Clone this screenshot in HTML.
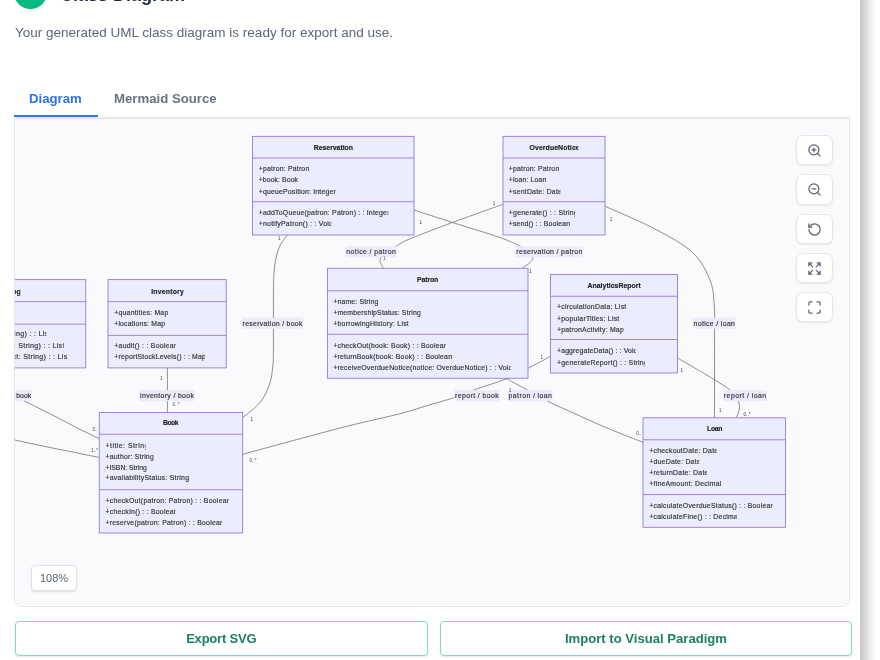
<!DOCTYPE html>
<html lang="en">
<head>
<meta charset="utf-8">
<title>Class Diagram</title>
<style>
*{box-sizing:border-box;margin:0;padding:0}
html,body{width:880px;height:660px;overflow:hidden;background:#fff;font-family:"Liberation Sans",sans-serif}
.card{position:absolute;left:0;top:0;width:860px;height:660px;background:#fff}
.shadow{position:absolute;left:860px;top:0;width:18px;height:660px;
  background:linear-gradient(to right,#c9c9c9 0%,#cbcbcb 6%,#d8d8d8 30%,#e6e6e6 48%,#f3f3f3 66%,#fbfbfb 84%,#fff 100%)}
.dot{position:absolute;left:14px;top:-24.1px;width:32.8px;height:32.8px;border-radius:50%;background:#06b981}
.title{position:absolute;left:59.5px;top:-15.6px;font-size:18px;line-height:22px;font-weight:bold;color:#1e293b;white-space:nowrap}
.sub{position:absolute;left:15px;top:24.2px;font-size:13.5px;line-height:18px;color:#5d6679;white-space:nowrap}
.tabs{position:absolute;left:15px;top:80px;width:835px;height:38px;border-bottom:1px solid #e5e7eb}
.tab{position:absolute;top:0;height:38px;line-height:37.2px;font-size:13.2px;font-weight:bold;color:#6b7280;white-space:nowrap}
.tab.on{color:#2e71ee}
.ul{position:absolute;left:14px;top:115.4px;width:84px;height:2px;background:#3277f2}
.canvas{position:absolute;left:14px;top:117.6px;width:836px;height:489px;background:#f9fafb;border:1px solid #e5e7eb;border-radius:0 0 8px 8px}
.dg{position:absolute;left:0;top:0;font-family:"Liberation Sans",sans-serif;will-change:transform;transform:translateZ(0)}
.zb{position:absolute;left:796px;width:36.5px;height:30.3px;background:#fff;border:1px solid #e5e7eb;border-radius:7px;box-shadow:0 1px 2px rgba(0,0,0,.08)}
.zb svg{position:absolute;left:9.6px;top:7px;width:15px;height:15px;stroke:#596273;fill:none;stroke-width:2;stroke-linecap:round;stroke-linejoin:round}
.pct{position:absolute;left:31px;top:565px;width:46px;height:25.5px;background:#fff;border:1px solid #dfe2e8;border-radius:4px;box-shadow:0 1px 2px rgba(0,0,0,.1);font-size:11px;line-height:24px;text-align:center;color:#5b6472}
.btn{position:absolute;top:621px;height:34.5px;background:#fff;border:1px solid #79e2b9;border-radius:4px;box-shadow:0 1px 2px rgba(0,0,0,.1);font-size:13px;letter-spacing:-0.2px;font-weight:bold;color:#1c8160;text-align:center;line-height:34.3px;white-space:nowrap}
.title,.sub,.tab,.pct,.btn{will-change:transform}
</style>
</head>
<body>
<div class="card"></div>
<div class="shadow"></div>
<div class="dot"></div>
<div class="title">Class Diagram</div>
<div class="sub">Your generated UML class diagram is ready for export and use.</div>
<div class="tabs">
  <div class="tab on" style="left:14px">Diagram</div>
  <div class="tab" style="left:99px">Mermaid Source</div>
</div>
<div class="ul"></div>
<div class="canvas"></div>
<svg class="dg" width="880" height="660" viewBox="0 0 880 660">
<defs><clipPath id="cp"><rect x="14.8" y="118" width="834.5" height="488"/></clipPath></defs>
<g clip-path="url(#cp)">
<g fill="none" stroke="#555" stroke-width="0.65">
<path d="M414.00,210.00 C420.42,212.08 438.17,217.92 452.50,222.50 C466.83,227.08 488.77,233.55 500.00,237.50 C511.23,241.45 515.07,243.95 519.90,246.20 C524.73,248.45 526.87,249.20 529.00,251.00 C531.13,252.80 532.25,255.42 532.70,257.00 C533.15,258.58 532.55,259.23 531.70,260.50 C530.85,261.77 529.30,263.28 527.60,264.60 C525.90,265.92 522.52,267.77 521.50,268.40"/>
<path d="M503.00,204.25 C494.58,207.29 468.00,216.74 452.50,222.50 C437.00,228.26 419.40,234.85 410.00,238.80 C400.60,242.75 400.10,244.08 396.10,246.20 C392.10,248.32 388.45,249.73 386.00,251.50 C383.55,253.27 382.40,255.13 381.40,256.80 C380.40,258.47 379.93,260.07 380.00,261.50 C380.07,262.93 381.18,264.23 381.80,265.40 C382.43,266.57 383.43,267.98 383.75,268.50"/>
<path d="M287.70,235.00 C286.80,236.10 283.88,239.13 282.30,241.60 C280.72,244.07 279.33,246.62 278.20,249.80 C277.07,252.98 276.18,257.07 275.50,260.70 C274.82,264.33 274.43,267.05 274.10,271.60 C273.77,276.15 273.62,279.93 273.50,288.00 C273.38,296.07 273.42,309.33 273.40,320.00 C273.38,330.67 273.48,344.50 273.40,352.00 C273.32,359.50 273.38,360.17 272.90,365.00 C272.42,369.83 271.98,375.70 270.50,381.00 C269.02,386.30 266.67,392.30 264.00,396.80 C261.33,401.30 258.03,404.55 254.50,408.00 C250.97,411.45 244.75,415.92 242.80,417.50"/>
<path d="M605.00,206.25 C613.33,210.04 640.42,221.29 655.00,229.00 C669.58,236.71 683.33,244.00 692.50,252.50 C701.67,261.00 706.38,271.25 710.00,280.00 C713.62,288.75 713.50,296.67 714.25,305.00 C715.00,313.33 714.46,317.50 714.50,330.00 C714.54,342.50 714.50,365.42 714.50,380.00 C714.50,394.58 714.50,411.25 714.50,417.50"/>
<path d="M167.40,367.50 C167.40,375.00 167.40,405.00 167.40,412.50"/>
<path d="M14.00,395.00 C15.83,396.04 19.00,398.12 25.00,401.25 C31.00,404.38 41.67,409.50 50.00,413.75 C58.33,418.00 66.79,422.58 75.00,426.75 C83.21,430.92 95.21,436.75 99.25,438.75"/>
<path d="M0.00,436.50 C2.50,437.08 6.67,438.17 15.00,440.00 C23.33,441.83 40.00,445.42 50.00,447.50 C60.00,449.58 66.79,450.83 75.00,452.50 C83.21,454.17 95.21,456.67 99.25,457.50"/>
<path d="M550.50,356.40 C546.75,358.38 535.42,364.53 528.00,368.30 C520.58,372.07 514.83,375.47 506.00,379.00 C497.17,382.53 483.58,386.42 475.00,389.50 C466.42,392.58 462.83,394.71 454.50,397.50 C446.17,400.29 434.08,403.54 425.00,406.25 C415.92,408.96 412.50,410.54 400.00,413.75 C387.50,416.96 366.67,421.33 350.00,425.50 C333.33,429.67 317.87,433.96 300.00,438.75 C282.13,443.54 252.33,451.67 242.80,454.25"/>
<path d="M506.00,378.25 C509.17,380.00 518.29,385.04 525.00,388.75 C531.71,392.46 537.92,396.33 546.25,400.50 C554.58,404.67 566.04,409.67 575.00,413.75 C583.96,417.83 592.50,421.75 600.00,425.00 C607.50,428.25 612.83,430.37 620.00,433.25 C627.17,436.13 639.17,440.79 643.00,442.30"/>
<path d="M677.50,358.00 C681.67,360.42 696.25,368.83 702.50,372.50 C708.75,376.17 710.50,377.17 715.00,380.00 C719.50,382.83 726.08,387.00 729.50,389.50 C732.92,392.00 734.05,393.13 735.50,395.00 C736.95,396.87 737.53,398.80 738.20,400.70 C738.87,402.60 739.43,404.55 739.50,406.40 C739.57,408.25 739.12,409.95 738.60,411.80 C738.08,413.65 736.77,416.55 736.40,417.50"/>
</g>
<rect x="345.75" y="246.25" width="50.75" height="11" fill="#ebebfd"/>
<text x="346.35" y="254.15" font-size="6.9" fill="#333" stroke="#333" stroke-width="0.16" textLength="49.55" lengthAdjust="spacing">notice / patron</text>
<rect x="515.75" y="246.25" width="67.25" height="11" fill="#ebebfd"/>
<text x="516.35" y="254.15" font-size="6.9" fill="#333" stroke="#333" stroke-width="0.16" textLength="66.05" lengthAdjust="spacing">reservation / patron</text>
<rect x="242" y="317.75" width="61" height="11" fill="#ebebfd"/>
<text x="242.6" y="325.65" font-size="6.9" fill="#333" stroke="#333" stroke-width="0.16" textLength="59.8" lengthAdjust="spacing">reservation / book</text>
<rect x="693" y="317.75" width="42.5" height="11" fill="#ebebfd"/>
<text x="693.6" y="325.65" font-size="6.9" fill="#333" stroke="#333" stroke-width="0.16" textLength="41.3" lengthAdjust="spacing">notice / loan</text>
<rect x="-12" y="390.0" width="43.75" height="11" fill="#ebebfd"/>
<text x="-11.4" y="397.9" font-size="6.9" fill="#333" stroke="#333" stroke-width="0.16" textLength="42.55" lengthAdjust="spacing">catalog / book</text>
<rect x="139.5" y="390.0" width="55.0" height="11" fill="#ebebfd"/>
<text x="140.1" y="397.9" font-size="6.9" fill="#333" stroke="#333" stroke-width="0.16" textLength="53.8" lengthAdjust="spacing">inventory / book</text>
<rect x="454.5" y="390.0" width="44.75" height="11" fill="#ebebfd"/>
<text x="455.1" y="397.9" font-size="6.9" fill="#333" stroke="#333" stroke-width="0.16" textLength="43.55" lengthAdjust="spacing">report / book</text>
<rect x="508" y="390.0" width="44.5" height="11" fill="#ebebfd"/>
<text x="508.6" y="397.9" font-size="6.9" fill="#333" stroke="#333" stroke-width="0.16" textLength="43.3" lengthAdjust="spacing">patron / loan</text>
<rect x="723.25" y="390.0" width="43.5" height="11" fill="#ebebfd"/>
<text x="723.85" y="397.9" font-size="6.9" fill="#333" stroke="#333" stroke-width="0.16" textLength="42.3" lengthAdjust="spacing">report / loan</text>
<text x="494" y="204.6" text-anchor="middle" font-size="4.6" fill="#444">1</text>
<text x="420.75" y="223.6" text-anchor="middle" font-size="4.6" fill="#444">1</text>
<text x="384.2" y="260.1" text-anchor="middle" font-size="4.6" fill="#444">1</text>
<text x="530.2" y="272.90000000000003" text-anchor="middle" font-size="4.6" fill="#444">1</text>
<text x="611" y="220.6" text-anchor="middle" font-size="4.6" fill="#444">1</text>
<text x="251.75" y="421.1" text-anchor="middle" font-size="4.6" fill="#444">1</text>
<text x="253" y="461.8" text-anchor="middle" font-size="4.6" fill="#444">0..*</text>
<text x="279.4" y="240.29999999999998" text-anchor="middle" font-size="4.6" fill="#444">1</text>
<text x="161.25" y="380.35" text-anchor="middle" font-size="4.6" fill="#444">1</text>
<text x="176" y="406.3" text-anchor="middle" font-size="4.6" fill="#444">0..*</text>
<text x="95" y="430.6" text-anchor="middle" font-size="4.6" fill="#444">0..</text>
<text x="94.5" y="452.3" text-anchor="middle" font-size="4.6" fill="#444">1..*</text>
<text x="541.75" y="358.6" text-anchor="middle" font-size="4.6" fill="#444">1</text>
<text x="681.75" y="372.35" text-anchor="middle" font-size="4.6" fill="#444">1</text>
<text x="720.2" y="411.6" text-anchor="middle" font-size="4.6" fill="#444">1</text>
<text x="747" y="416.1" text-anchor="middle" font-size="4.6" fill="#444">0..*</text>
<text x="638.75" y="434.6" text-anchor="middle" font-size="4.6" fill="#444">0..</text>
<text x="510" y="392.1" text-anchor="middle" font-size="4.6" fill="#444">1</text>
<rect x="252.5" y="136.35" width="161.5" height="98.65" fill="#ECECFF" stroke="#9370DB" stroke-width="0.85"/>
<path d="M252.5,158H414M252.5,201.75H414" stroke="#9370DB" stroke-width="0.85" fill="none"/>
<svg x="312.75" y="141.40" width="40.25" height="12" overflow="hidden"><text x="1" y="8.4" font-size="6.9" font-weight="bold" fill="#222" stroke="#222" stroke-width="0.16" textLength="39.25" lengthAdjust="spacing">Reservation</text></svg>
<svg x="257.75" y="162.25" width="51.50" height="12" overflow="hidden"><text x="1" y="8.4" font-size="6.9" fill="#333" stroke="#333" stroke-width="0.16" textLength="50.50" lengthAdjust="spacing">+patron: Patron</text></svg>
<svg x="257.75" y="173.50" width="40.25" height="12" overflow="hidden"><text x="1" y="8.4" font-size="6.9" fill="#333" stroke="#333" stroke-width="0.16" textLength="39.25" lengthAdjust="spacing">+book: Book</text></svg>
<svg x="257.75" y="185.25" width="78.00" height="12" overflow="hidden"><text x="1" y="8.4" font-size="6.9" fill="#333" stroke="#333" stroke-width="0.16" textLength="77.00" lengthAdjust="spacing">+queuePosition: Integer</text></svg>
<svg x="257.75" y="206.50" width="130.50" height="12" overflow="hidden"><text x="1" y="8.4" font-size="6.9" fill="#333" stroke="#333" stroke-width="0.16" textLength="130.70" lengthAdjust="spacing">+addToQueue(patron: Patron) : : Integer</text></svg>
<svg x="257.75" y="217.25" width="73.50" height="12" overflow="hidden"><text x="1" y="8.4" font-size="6.9" fill="#333" stroke="#333" stroke-width="0.16" textLength="74.20" lengthAdjust="spacing">+notifyPatron() : : Void</text></svg>
<rect x="503" y="136.35" width="102" height="98.65" fill="#ECECFF" stroke="#9370DB" stroke-width="0.85"/>
<path d="M503,158H605M503,201.75H605" stroke="#9370DB" stroke-width="0.85" fill="none"/>
<svg x="528.50" y="141.40" width="49.75" height="12" overflow="hidden"><text x="1" y="8.4" font-size="6.9" font-weight="bold" fill="#222" stroke="#222" stroke-width="0.16" textLength="50.15" lengthAdjust="spacing">OverdueNotice</text></svg>
<svg x="507.75" y="162.25" width="51.50" height="12" overflow="hidden"><text x="1" y="8.4" font-size="6.9" fill="#333" stroke="#333" stroke-width="0.16" textLength="50.50" lengthAdjust="spacing">+patron: Patron</text></svg>
<svg x="507.75" y="173.50" width="38.50" height="12" overflow="hidden"><text x="1" y="8.4" font-size="6.9" fill="#333" stroke="#333" stroke-width="0.16" textLength="37.50" lengthAdjust="spacing">+loan: Loan</text></svg>
<svg x="507.75" y="185.25" width="52.75" height="12" overflow="hidden"><text x="1" y="8.4" font-size="6.9" fill="#333" stroke="#333" stroke-width="0.16" textLength="53.15" lengthAdjust="spacing">+sentDate: Date</text></svg>
<svg x="507.75" y="206.50" width="67.25" height="12" overflow="hidden"><text x="1" y="8.4" font-size="6.9" fill="#333" stroke="#333" stroke-width="0.16" textLength="69.05" lengthAdjust="spacing">+generate() : : String</text></svg>
<svg x="507.75" y="217.25" width="62.25" height="12" overflow="hidden"><text x="1" y="8.4" font-size="6.9" fill="#333" stroke="#333" stroke-width="0.16" textLength="61.25" lengthAdjust="spacing">+send() : : Boolean</text></svg>
<rect x="-71.75" y="279.65" width="157.5" height="88.25" fill="#ECECFF" stroke="#9370DB" stroke-width="0.85"/>
<path d="M-71.75,301.65H85.75M-71.75,324.15H85.75" stroke="#9370DB" stroke-width="0.85" fill="none"/>
<svg x="-6.30" y="285.15" width="27.00" height="12" overflow="hidden"><text x="1" y="8.4" font-size="6.9" font-weight="bold" fill="#222" stroke="#222" stroke-width="0.16" textLength="26.00" lengthAdjust="spacing">Catalog</text></svg>
<svg x="0" y="327.60" width="46.25" height="12" overflow="hidden"><text x="48.45" y="8.4" text-anchor="end" font-size="7.107" fill="#333" stroke="#333" stroke-width="0.16" letter-spacing="0.3">+searchByTitle(title: String) : : Lis</text></svg>
<svg x="0" y="339.80" width="63.75" height="12" overflow="hidden"><text x="64.75" y="8.4" text-anchor="end" font-size="7.107" fill="#333" stroke="#333" stroke-width="0.16" letter-spacing="0.3">+searchByAuthor(author: String) : : List</text></svg>
<svg x="0" y="350.70" width="67.50" height="12" overflow="hidden"><text x="67.50" y="8.4" text-anchor="end" font-size="7.107" fill="#333" stroke="#333" stroke-width="0.16" letter-spacing="0.3">+searchBySubject(subject: String) : : Lis</text></svg>
<rect x="108" y="279.65" width="118.25" height="88.25" fill="#ECECFF" stroke="#9370DB" stroke-width="0.85"/>
<path d="M108,301.65H226.25M108,335.4H226.25" stroke="#9370DB" stroke-width="0.85" fill="none"/>
<svg x="150.25" y="285.15" width="33.50" height="12" overflow="hidden"><text x="1" y="8.4" font-size="6.9" font-weight="bold" fill="#222" stroke="#222" stroke-width="0.16" textLength="32.50" lengthAdjust="spacing">Inventory</text></svg>
<svg x="113.25" y="306.90" width="55.00" height="12" overflow="hidden"><text x="1" y="8.4" font-size="6.9" fill="#333" stroke="#333" stroke-width="0.16" textLength="54.00" lengthAdjust="spacing">+quantities: Map</text></svg>
<svg x="113.25" y="317.65" width="51.75" height="12" overflow="hidden"><text x="1" y="8.4" font-size="6.9" fill="#333" stroke="#333" stroke-width="0.16" textLength="50.75" lengthAdjust="spacing">+locations: Map</text></svg>
<svg x="113.25" y="339.90" width="62.50" height="12" overflow="hidden"><text x="1" y="8.4" font-size="6.9" fill="#333" stroke="#333" stroke-width="0.16" textLength="63.40" lengthAdjust="spacing">+audit() : : Boolean</text></svg>
<svg x="113.25" y="350.90" width="91.75" height="12" overflow="hidden"><text x="1" y="8.4" font-size="6.9" fill="#333" stroke="#333" stroke-width="0.16" textLength="91.65" lengthAdjust="spacing">+reportStockLevels() : : Map</text></svg>
<rect x="327.5" y="268.25" width="200.5" height="110.0" fill="#ECECFF" stroke="#9370DB" stroke-width="0.85"/>
<path d="M327.5,290.75H528M327.5,334.25H528" stroke="#9370DB" stroke-width="0.85" fill="none"/>
<svg x="416.00" y="273.25" width="22.25" height="12" overflow="hidden"><text x="1" y="8.4" font-size="6.9" font-weight="bold" fill="#222" stroke="#222" stroke-width="0.16" textLength="21.25" lengthAdjust="spacing">Patron</text></svg>
<svg x="332.25" y="295.75" width="46.00" height="12" overflow="hidden"><text x="1" y="8.4" font-size="6.9" fill="#333" stroke="#333" stroke-width="0.16" textLength="45.00" lengthAdjust="spacing">+name: String</text></svg>
<svg x="332.25" y="306.50" width="88.50" height="12" overflow="hidden"><text x="1" y="8.4" font-size="6.9" fill="#333" stroke="#333" stroke-width="0.16" textLength="87.50" lengthAdjust="spacing">+membershipStatus: String</text></svg>
<svg x="332.25" y="317.25" width="76.50" height="12" overflow="hidden"><text x="1" y="8.4" font-size="6.9" fill="#333" stroke="#333" stroke-width="0.16" textLength="75.50" lengthAdjust="spacing">+borrowingHistory: List</text></svg>
<svg x="332.25" y="339.50" width="113.50" height="12" overflow="hidden"><text x="1" y="8.4" font-size="6.9" fill="#333" stroke="#333" stroke-width="0.16" textLength="114.40" lengthAdjust="spacing">+checkOut(book: Book) : : Boolean</text></svg>
<svg x="332.25" y="350.50" width="119.75" height="12" overflow="hidden"><text x="1" y="8.4" font-size="6.9" fill="#333" stroke="#333" stroke-width="0.16" textLength="118.75" lengthAdjust="spacing">+returnBook(book: Book) : : Boolean</text></svg>
<svg x="332.25" y="361.25" width="178.50" height="12" overflow="hidden"><text x="1" y="8.4" font-size="6.9" fill="#333" stroke="#333" stroke-width="0.16" textLength="179.20" lengthAdjust="spacing">+receiveOverdueNotice(notice: OverdueNotice) : : Void</text></svg>
<rect x="550.5" y="274.5" width="127.0" height="98.5" fill="#ECECFF" stroke="#9370DB" stroke-width="0.85"/>
<path d="M550.5,296.25H677.5M550.5,339.5H677.5" stroke="#9370DB" stroke-width="0.85" fill="none"/>
<svg x="586.50" y="279.50" width="54.25" height="12" overflow="hidden"><text x="1" y="8.4" font-size="6.9" font-weight="bold" fill="#222" stroke="#222" stroke-width="0.16" textLength="53.25" lengthAdjust="spacing">AnalyticsReport</text></svg>
<svg x="556.00" y="300.50" width="70.25" height="12" overflow="hidden"><text x="1" y="8.4" font-size="6.9" fill="#333" stroke="#333" stroke-width="0.16" textLength="69.25" lengthAdjust="spacing">+circulationData: List</text></svg>
<svg x="556.00" y="312.25" width="63.25" height="12" overflow="hidden"><text x="1" y="8.4" font-size="6.9" fill="#333" stroke="#333" stroke-width="0.16" textLength="62.25" lengthAdjust="spacing">+popularTitles: List</text></svg>
<svg x="556.00" y="323.25" width="67.75" height="12" overflow="hidden"><text x="1" y="8.4" font-size="6.9" fill="#333" stroke="#333" stroke-width="0.16" textLength="66.75" lengthAdjust="spacing">+patronActivity: Map</text></svg>
<svg x="556.00" y="344.75" width="79.75" height="12" overflow="hidden"><text x="1" y="8.4" font-size="6.9" fill="#333" stroke="#333" stroke-width="0.16" textLength="80.45" lengthAdjust="spacing">+aggregateData() : : Void</text></svg>
<svg x="556.00" y="356.25" width="89.00" height="12" overflow="hidden"><text x="1" y="8.4" font-size="6.9" fill="#333" stroke="#333" stroke-width="0.16" textLength="90.80" lengthAdjust="spacing">+generateReport() : : String</text></svg>
<rect x="99.25" y="412.5" width="143.45" height="120.5" fill="#ECECFF" stroke="#9370DB" stroke-width="0.85"/>
<path d="M99.25,434.25H242.7M99.25,489.75H242.7" stroke="#9370DB" stroke-width="0.85" fill="none"/>
<svg x="162.00" y="416.90" width="16.50" height="12" overflow="hidden"><text x="1" y="8.4" font-size="6.9" font-weight="bold" fill="#222" stroke="#222" stroke-width="0.16" textLength="15.50" lengthAdjust="spacing">Book</text></svg>
<svg x="104.50" y="440.00" width="41.00" height="12" overflow="hidden"><text x="1" y="8.4" font-size="6.9" fill="#333" stroke="#333" stroke-width="0.16" textLength="42.80" lengthAdjust="spacing">+title: String</text></svg>
<svg x="104.50" y="450.50" width="49.25" height="12" overflow="hidden"><text x="1" y="8.4" font-size="6.9" fill="#333" stroke="#333" stroke-width="0.16" textLength="48.25" lengthAdjust="spacing">+author: String</text></svg>
<svg x="104.50" y="461.25" width="42.25" height="12" overflow="hidden"><text x="1" y="8.4" font-size="6.9" fill="#333" stroke="#333" stroke-width="0.16" textLength="41.25" lengthAdjust="spacing">+ISBN: String</text></svg>
<svg x="104.50" y="472.00" width="84.50" height="12" overflow="hidden"><text x="1" y="8.4" font-size="6.9" fill="#333" stroke="#333" stroke-width="0.16" textLength="83.50" lengthAdjust="spacing">+availabilityStatus: String</text></svg>
<svg x="104.50" y="494.75" width="124.25" height="12" overflow="hidden"><text x="1" y="8.4" font-size="6.9" fill="#333" stroke="#333" stroke-width="0.16" textLength="125.15" lengthAdjust="spacing">+checkOut(patron: Patron) : : Boolean</text></svg>
<svg x="104.50" y="505.25" width="71.25" height="12" overflow="hidden"><text x="1" y="8.4" font-size="6.9" fill="#333" stroke="#333" stroke-width="0.16" textLength="72.15" lengthAdjust="spacing">+checkIn() : : Boolean</text></svg>
<svg x="104.50" y="516.25" width="117.50" height="12" overflow="hidden"><text x="1" y="8.4" font-size="6.9" fill="#333" stroke="#333" stroke-width="0.16" textLength="118.40" lengthAdjust="spacing">+reserve(patron: Patron) : : Boolean</text></svg>
<rect x="643" y="417.8" width="142.5" height="109.49999999999994" fill="#ECECFF" stroke="#9370DB" stroke-width="0.85"/>
<path d="M643,439.8H785.5M643,494.55H785.5" stroke="#9370DB" stroke-width="0.85" fill="none"/>
<svg x="706.00" y="423.05" width="16.50" height="12" overflow="hidden"><text x="1" y="8.4" font-size="6.9" font-weight="bold" fill="#222" stroke="#222" stroke-width="0.16" textLength="15.50" lengthAdjust="spacing">Loan</text></svg>
<svg x="648.25" y="444.55" width="68.50" height="12" overflow="hidden"><text x="1" y="8.4" font-size="6.9" fill="#333" stroke="#333" stroke-width="0.16" textLength="68.90" lengthAdjust="spacing">+checkoutDate: Date</text></svg>
<svg x="648.25" y="455.55" width="51.00" height="12" overflow="hidden"><text x="1" y="8.4" font-size="6.9" fill="#333" stroke="#333" stroke-width="0.16" textLength="51.40" lengthAdjust="spacing">+dueDate: Date</text></svg>
<svg x="648.25" y="467.05" width="58.75" height="12" overflow="hidden"><text x="1" y="8.4" font-size="6.9" fill="#333" stroke="#333" stroke-width="0.16" textLength="59.15" lengthAdjust="spacing">+returnDate: Date</text></svg>
<svg x="648.25" y="477.80" width="73.00" height="12" overflow="hidden"><text x="1" y="8.4" font-size="6.9" fill="#333" stroke="#333" stroke-width="0.16" textLength="72.00" lengthAdjust="spacing">+fineAmount: Decimal</text></svg>
<svg x="648.25" y="499.55" width="124.25" height="12" overflow="hidden"><text x="1" y="8.4" font-size="6.9" fill="#333" stroke="#333" stroke-width="0.16" textLength="125.15" lengthAdjust="spacing">+calculateOverdueStatus() : : Boolean</text></svg>
<svg x="648.25" y="511.05" width="88.50" height="12" overflow="hidden"><text x="1" y="8.4" font-size="6.9" fill="#333" stroke="#333" stroke-width="0.16" textLength="88.70" lengthAdjust="spacing">+calculateFine() : : Decima</text></svg>
</g></svg>
<div class="zb" style="top:135px"><svg viewBox="0 0 24 24"><circle cx="11" cy="11" r="8"/><path d="M21 21l-4.3-4.3M11 8v6M8 11h6"/></svg></div>
<div class="zb" style="top:174.3px"><svg viewBox="0 0 24 24"><circle cx="11" cy="11" r="8"/><path d="M21 21l-4.3-4.3M8 11h6"/></svg></div>
<div class="zb" style="top:213.5px"><svg viewBox="0 0 24 24"><path d="M3 12a9 9 0 1 0 9-9 9.75 9.75 0 0 0-6.74 2.74L3 8"/><path d="M3 3v5h5"/></svg></div>
<div class="zb" style="top:252.7px"><svg viewBox="0 0 24 24"><path d="M21 21l-6-6m6 6v-4.8m0 4.8h-4.8M3 16.2V21m0 0h4.8M3 21l6-6M21 7.8V3m0 0h-4.8M21 3l-6 6M3 7.8V3m0 0h4.8M3 3l6 6"/></svg></div>
<div class="zb" style="top:291.8px"><svg viewBox="0 0 24 24"><path d="M8 3H5a2 2 0 0 0-2 2v3M21 8V5a2 2 0 0 0-2-2h-3M3 16v3a2 2 0 0 0 2 2h3M16 21h3a2 2 0 0 0 2-2v-3"/></svg></div>
<div class="pct">108%</div>
<div class="btn" style="left:15px;width:412.5px">Export SVG</div>
<div class="btn" style="left:440px;width:412px;font-size:13.1px;letter-spacing:0">Import to Visual Paradigm</div>
</body>
</html>
